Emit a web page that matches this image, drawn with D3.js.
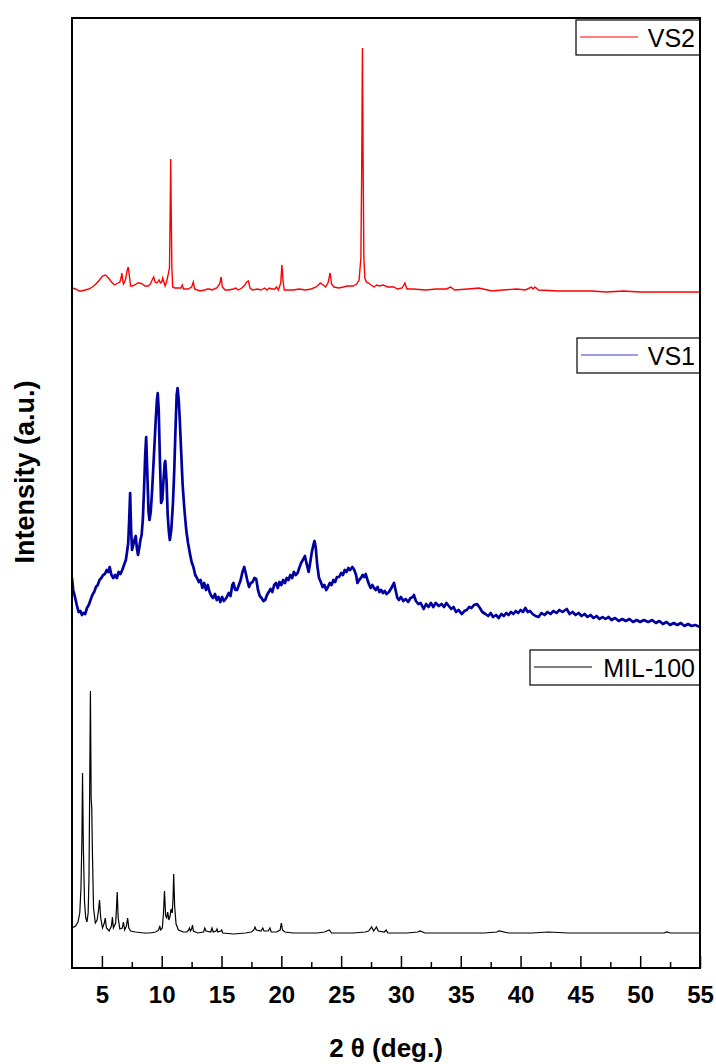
<!DOCTYPE html>
<html>
<head>
<meta charset="utf-8">
<script src="https://cdn.jsdelivr.net/npm/d3@7/dist/d3.min.js"></script>
<style>
  body { margin: 0; background: #fff; }
  text { font-family: "Liberation Sans", Arial, sans-serif; }
</style>
</head>
<body>
<svg width="716" height="1064"></svg>
<script>
// x axis ticks (2 theta, deg.)
var majorTicks = [5, 10, 15, 20, 25, 30, 35, 40, 45, 50, 55];
var minorTicks = [7.5, 12.5, 17.5, 22.5, 27.5, 32.5, 37.5, 42.5, 47.5, 52.5];

var seriesNames = ["VS2", "VS1", "MIL-100"];

// stacked intensities (a.u.), [2theta, I]
var mil100 = [
  [2.5, 40], [2.8, 42], [3.0, 46], [3.15, 55], [3.25, 80], [3.33, 130], [3.38, 195], [3.45, 120],
  [3.55, 65], [3.65, 50], [3.75, 46], [3.85, 55], [3.92, 90], [3.98, 180], [4.04, 277], [4.1, 170],
  [4.15, 161], [4.2, 120], [4.3, 60], [4.45, 45], [4.6, 48], [4.72, 58], [4.8, 68], [4.9, 50],
  [5.05, 40], [5.2, 45], [5.28, 50], [5.38, 40], [5.6, 37], [5.8, 42], [5.88, 51], [5.96, 40],
  [6.15, 45], [6.22, 60], [6.28, 76], [6.36, 50], [6.5, 39], [6.7, 40], [6.8, 46], [6.9, 38],
  [7.05, 42], [7.15, 50], [7.25, 40], [7.4, 37], [7.8, 36], [8.5, 35], [9.0, 35], [9.5, 36],
  [9.75, 38], [9.83, 42], [9.92, 38], [10.05, 40], [10.15, 55], [10.23, 77], [10.33, 52], [10.42, 50],
  [10.5, 56], [10.6, 48], [10.7, 52], [10.78, 59], [10.88, 55], [10.95, 70], [11.0, 94], [11.08, 62],
  [11.2, 44], [11.4, 38], [11.8, 36], [12.1, 36], [12.25, 38], [12.32, 40], [12.4, 37], [12.5, 39],
  [12.57, 43], [12.65, 37], [13.0, 35], [13.5, 36], [13.6, 40], [13.7, 37], [14.1, 36], [14.2, 40],
  [14.3, 36], [14.55, 37], [14.62, 39], [14.7, 36], [14.95, 37], [15.02, 38], [15.1, 35], [16.0, 34],
  [17.0, 35], [17.5, 36], [17.7, 38], [17.8, 41], [17.9, 38], [18.3, 37], [18.45, 40], [18.55, 37],
  [18.9, 37], [19.05, 40], [19.15, 36], [19.6, 36], [19.9, 38], [20.0, 45], [20.1, 38], [20.3, 36],
  [21.0, 35], [22.0, 35], [23.0, 35], [23.6, 36], [24.0, 38], [24.2, 35], [25.0, 35], [26.0, 35],
  [27.0, 36], [27.3, 37], [27.55, 41], [27.72, 37], [27.95, 41], [28.1, 37], [28.6, 36], [28.77, 38],
  [28.9, 35], [29.5, 35], [30.5, 35], [31.4, 36], [31.6, 37], [32.0, 35], [33.0, 35], [35.0, 35],
  [37.0, 35], [38.0, 36], [38.2, 37], [39.0, 35], [41.0, 35], [42.3, 36], [44.0, 35], [46.0, 35],
  [48.0, 35], [50.0, 35], [52.0, 35], [52.2, 36], [52.5, 35], [55.0, 35]
];

var vs1 = [
  [2.5, 390], [2.6, 378], [2.75, 371], [2.9, 363], [3.05, 356], [3.2, 357], [3.33, 353], [3.45, 355],
  [3.6, 354], [3.75, 360], [3.9, 363], [4.05, 368], [4.2, 373], [4.35, 376], [4.5, 381], [4.65, 383],
  [4.8, 388], [4.95, 390], [5.1, 393], [5.25, 394], [5.4, 398], [5.55, 396], [5.65, 401], [5.8, 393],
  [5.95, 390], [6.1, 393], [6.25, 390], [6.4, 396], [6.55, 394], [6.7, 398], [6.85, 403], [7.0, 408],
  [7.1, 416], [7.2, 425], [7.28, 448], [7.36, 475], [7.44, 438], [7.52, 418], [7.62, 423], [7.72, 428],
  [7.83, 432], [7.92, 420], [8.02, 413], [8.12, 420], [8.22, 428], [8.32, 433], [8.42, 448], [8.52, 478],
  [8.62, 513], [8.7, 531], [8.8, 493], [8.9, 456], [8.98, 448], [9.08, 456], [9.2, 478], [9.35, 513],
  [9.5, 548], [9.6, 568], [9.67, 575], [9.75, 558], [9.85, 508], [9.95, 465], [10.05, 468], [10.15, 488],
  [10.25, 505], [10.3, 507], [10.4, 488], [10.5, 453], [10.6, 436], [10.68, 428], [10.8, 438], [10.94, 465],
  [11.05, 498], [11.15, 538], [11.25, 573], [11.33, 580], [11.42, 568], [11.5, 551], [11.62, 518], [11.75, 483],
  [11.9, 458], [12.05, 438], [12.2, 425], [12.35, 415], [12.5, 406], [12.65, 401], [12.8, 393], [12.95, 390],
  [13.1, 386], [13.25, 388], [13.4, 380], [13.55, 385], [13.7, 378], [13.85, 383], [14.0, 376], [14.15, 372],
  [14.3, 370], [14.45, 374], [14.6, 368], [14.75, 371], [14.9, 366], [15.05, 371], [15.2, 367], [15.4, 370],
  [15.6, 375], [15.75, 372], [15.9, 383], [16.0, 385], [16.15, 378], [16.3, 378], [16.45, 383], [16.6, 388],
  [16.75, 396], [16.9, 401], [17.0, 396], [17.15, 388], [17.3, 381], [17.45, 385], [17.6, 386], [17.75, 390],
  [17.9, 389], [18.05, 378], [18.2, 372], [18.35, 370], [18.5, 367], [18.65, 368], [18.8, 373], [18.95, 376],
  [19.1, 379], [19.25, 376], [19.4, 383], [19.56, 385], [19.7, 380], [19.85, 386], [20.0, 383], [20.15, 388],
  [20.3, 385], [20.45, 390], [20.6, 388], [20.75, 393], [20.9, 390], [21.05, 396], [21.2, 393], [21.36, 395],
  [21.5, 400], [21.65, 405], [21.8, 408], [21.97, 412], [22.1, 405], [22.28, 396], [22.42, 406], [22.55, 416],
  [22.68, 423], [22.78, 427], [22.88, 420], [23.0, 403], [23.15, 390], [23.3, 386], [23.45, 381], [23.6, 383],
  [23.75, 378], [23.9, 381], [24.05, 385], [24.2, 383], [24.35, 388], [24.5, 386], [24.65, 391], [24.83, 391],
  [25.0, 395], [25.15, 393], [25.3, 398], [25.45, 396], [25.6, 400], [25.75, 398], [25.94, 401], [26.1, 398],
  [26.25, 393], [26.36, 385], [26.5, 388], [26.65, 390], [26.8, 393], [26.95, 391], [27.06, 394], [27.2, 388],
  [27.35, 383], [27.47, 380], [27.6, 383], [27.75, 380], [27.9, 378], [28.05, 381], [28.2, 376], [28.35, 378],
  [28.5, 375], [28.65, 377], [28.8, 374], [29.0, 376], [29.2, 380], [29.42, 385], [29.55, 378], [29.7, 370],
  [29.83, 368], [30.0, 371], [30.2, 367], [30.4, 369], [30.6, 366], [30.8, 370], [31.0, 371], [31.08, 373],
  [31.25, 367], [31.45, 364], [31.65, 365], [31.9, 359], [32.1, 364], [32.3, 361], [32.5, 365], [32.7, 361],
  [32.9, 365], [33.17, 362], [33.4, 364], [33.6, 361], [33.8, 365], [34.0, 362], [34.2, 359], [34.4, 361],
  [34.6, 356], [34.8, 358], [35.1, 354], [35.3, 357], [35.5, 358], [35.7, 361], [35.9, 360], [36.1, 363],
  [36.36, 364], [36.6, 360], [36.8, 356], [37.06, 354], [37.3, 352], [37.5, 355], [37.7, 351], [37.95, 353],
  [38.17, 350], [38.4, 354], [38.6, 352], [38.8, 355], [39.0, 353], [39.2, 356], [39.4, 354], [39.6, 357],
  [39.8, 355], [40.0, 358], [40.2, 356], [40.4, 360], [40.6, 356], [40.8, 357], [41.0, 354], [41.25, 352],
  [41.5, 351], [41.75, 355], [42.0, 353], [42.25, 356], [42.5, 354], [42.75, 357], [43.0, 355], [43.25, 358],
  [43.5, 356], [43.86, 359], [44.1, 354], [44.35, 356], [44.6, 353], [44.85, 355], [45.1, 352], [45.35, 354],
  [45.6, 351], [45.85, 353], [46.1, 350], [46.35, 352], [46.6, 349], [46.85, 351], [47.1, 349], [47.35, 351],
  [47.6, 348], [47.9, 350], [48.2, 347], [48.5, 349], [48.8, 347], [49.1, 349], [49.4, 346], [49.7, 348],
  [50.0, 346], [50.3, 348], [50.67, 346], [51.0, 348], [51.3, 345], [51.6, 347], [51.9, 344], [52.2, 346],
  [52.5, 343], [52.8, 345], [53.1, 343], [53.4, 345], [53.7, 342], [54.0, 344], [54.3, 342], [54.6, 343],
  [55.0, 341]
];

var vs2 = [
  [2.5, 680], [2.8, 679], [3.1, 677], [3.3, 677], [3.6, 678], [3.9, 679], [4.2, 681], [4.5, 684],
  [4.8, 688], [5.05, 692], [5.3, 693], [5.55, 690], [5.8, 686], [6.05, 683], [6.2, 684], [6.35, 685],
  [6.5, 686], [6.6, 690], [6.67, 695], [6.74, 688], [6.8, 684], [6.9, 686], [7.0, 690], [7.1, 697],
  [7.2, 701], [7.3, 692], [7.4, 682], [7.55, 682], [7.75, 683], [8.0, 685], [8.17, 685], [8.4, 684],
  [8.6, 682], [8.86, 682], [9.05, 684], [9.2, 688], [9.33, 691], [9.45, 686], [9.56, 685], [9.68, 686],
  [9.78, 688], [9.9, 685], [10.0, 686], [10.08, 690], [10.18, 686], [10.28, 682], [10.4, 686], [10.55, 694],
  [10.65, 700], [10.71, 760], [10.75, 809], [10.79, 760], [10.85, 700], [10.92, 681], [11.1, 680], [11.4, 680],
  [11.6, 680], [11.72, 683], [11.82, 679], [12.2, 679], [12.5, 681], [12.64, 686], [12.75, 679], [13.2, 677],
  [13.6, 678], [13.8, 679], [14.0, 679], [14.2, 678], [14.6, 680], [14.85, 684], [14.97, 691], [15.07, 681],
  [15.3, 678], [15.6, 678], [16.0, 679], [16.2, 680], [16.4, 678], [16.7, 680], [16.95, 683], [17.1, 686],
  [17.25, 687], [17.38, 680], [17.6, 678], [18.0, 679], [18.3, 678], [18.6, 680], [18.8, 678], [19.0, 680],
  [19.2, 679], [19.45, 679], [19.6, 681], [19.75, 678], [19.95, 685], [20.05, 703], [20.15, 686], [20.25, 678],
  [20.6, 678], [21.0, 678], [21.5, 679], [22.0, 678], [22.5, 679], [22.9, 681], [23.1, 683], [23.25, 685],
  [23.5, 683], [23.7, 681], [23.9, 685], [24.08, 695], [24.2, 684], [24.4, 681], [24.8, 680], [25.2, 681],
  [25.5, 682], [26.0, 682], [26.3, 684], [26.5, 688], [26.65, 710], [26.72, 800], [26.78, 920], [26.84, 800],
  [26.9, 710], [26.98, 690], [27.1, 686], [27.3, 685], [27.5, 683], [27.75, 681], [27.97, 683], [28.2, 682],
  [28.5, 683], [28.9, 681], [29.4, 681], [29.7, 679], [30.1, 680], [30.33, 685], [30.5, 679], [31.0, 679],
  [32.06, 678], [33.0, 679], [33.8, 679], [34.14, 681], [34.5, 678], [35.6, 679], [36.5, 680], [37.6, 677],
  [38.5, 678], [39.7, 679], [40.4, 678], [40.9, 681], [41.05, 679], [41.2, 681], [41.5, 678], [43.17, 677],
  [44.5, 677], [45.9, 677], [47.2, 676], [48.6, 677], [50.0, 676], [51.4, 676], [53.0, 676], [55.0, 676]
];

var svg = d3.select("svg");
var pLeft = 72, pRight = 700, pTop = 18, pBottom = 968;

var x = d3.scaleLinear().domain([2.5, 55]).range([pLeft, pRight]);
var y = d3.scaleLinear().domain([0, 950]).range([pBottom, pTop]);

svg.append("defs").append("clipPath").attr("id", "plotclip")
  .append("rect").attr("x", pLeft).attr("y", pTop)
  .attr("width", pRight - pLeft).attr("height", pBottom - pTop);

var line = d3.line()
  .x(function (d) { return x(d[0]); })
  .y(function (d) { return y(d[1]); });

var plot = svg.append("g").attr("clip-path", "url(#plotclip)");

plot.append("path").datum(mil100)
  .attr("d", line).attr("fill", "none")
  .attr("stroke", "#000").attr("stroke-width", 1.2);

plot.append("path").datum(vs1)
  .attr("d", line).attr("fill", "none")
  .attr("stroke", "#0000a0").attr("stroke-width", 2.7)
  .attr("stroke-linejoin", "round");

plot.append("path").datum(vs2)
  .attr("d", line).attr("fill", "none")
  .attr("stroke", "#ff0000").attr("stroke-width", 1.4);

// ticks point inward from the bottom axis
var xAxis = d3.axisBottom(x).tickValues(majorTicks).tickSize(-12).tickPadding(18)
  .tickFormat(d3.format("d"));
var gx = svg.append("g").attr("transform", "translate(0," + pBottom + ")").call(xAxis);
gx.select(".domain").remove();
gx.selectAll(".tick line").attr("stroke", "#000").attr("stroke-width", 1.5);
gx.selectAll(".tick text")
  .attr("fill", "#000")
  .style("font-family", "'Liberation Sans', Arial, sans-serif")
  .style("font-size", "24px").style("font-weight", "bold");

var xMinor = d3.axisBottom(x).tickValues(minorTicks).tickSize(-6).tickFormat("");
var gm = svg.append("g").attr("transform", "translate(0," + pBottom + ")").call(xMinor);
gm.select(".domain").remove();
gm.selectAll(".tick line").attr("stroke", "#000").attr("stroke-width", 1.5);

// frame
svg.append("rect")
  .attr("x", pLeft).attr("y", pTop)
  .attr("width", pRight - pLeft).attr("height", pBottom - pTop)
  .attr("fill", "none").attr("stroke", "#000").attr("stroke-width", 2);

// axis titles
svg.append("text")
  .attr("x", (pLeft + pRight) / 2).attr("y", 1057)
  .attr("text-anchor", "middle")
  .style("font-size", "26px").style("font-weight", "bold")
  .text("2 \u03b8 (deg.)");

svg.append("text")
  .attr("transform", "translate(34," + 472 + ") rotate(-90)")
  .attr("text-anchor", "middle")
  .style("font-size", "27px").style("font-weight", "bold")
  .text("Intensity (a.u.)");

// legends
var legends = [
  { name: seriesNames[0], color: "#ff0000", x0: 576, y0: 20, lineX: [580, 638] },
  { name: seriesNames[1], color: "#3a3ad0", x0: 577, y0: 338, lineX: [581, 638] },
  { name: seriesNames[2], color: "#000", x0: 530, y0: 650, lineX: [534, 592] }
];

legends.forEach(function (lg) {
  var g = svg.append("g");
  g.append("rect")
    .attr("x", lg.x0).attr("y", lg.y0)
    .attr("width", pRight - lg.x0).attr("height", 35)
    .attr("fill", "#fff").attr("stroke", "#000").attr("stroke-width", 1.2);
  g.append("line")
    .attr("x1", lg.lineX[0]).attr("x2", lg.lineX[1])
    .attr("y1", lg.y0 + 17).attr("y2", lg.y0 + 17)
    .attr("stroke", lg.color).attr("stroke-width", 1);
  g.append("text")
    .attr("x", pRight - 5).attr("y", lg.y0 + 27)
    .attr("text-anchor", "end")
    .style("font-size", "25px")
    .text(lg.name);
});

// redraw right edge of frame over the legend boxes
svg.append("line")
  .attr("x1", pRight).attr("x2", pRight).attr("y1", pTop).attr("y2", pBottom)
  .attr("stroke", "#000").attr("stroke-width", 2);
</script>
</body>
</html>
